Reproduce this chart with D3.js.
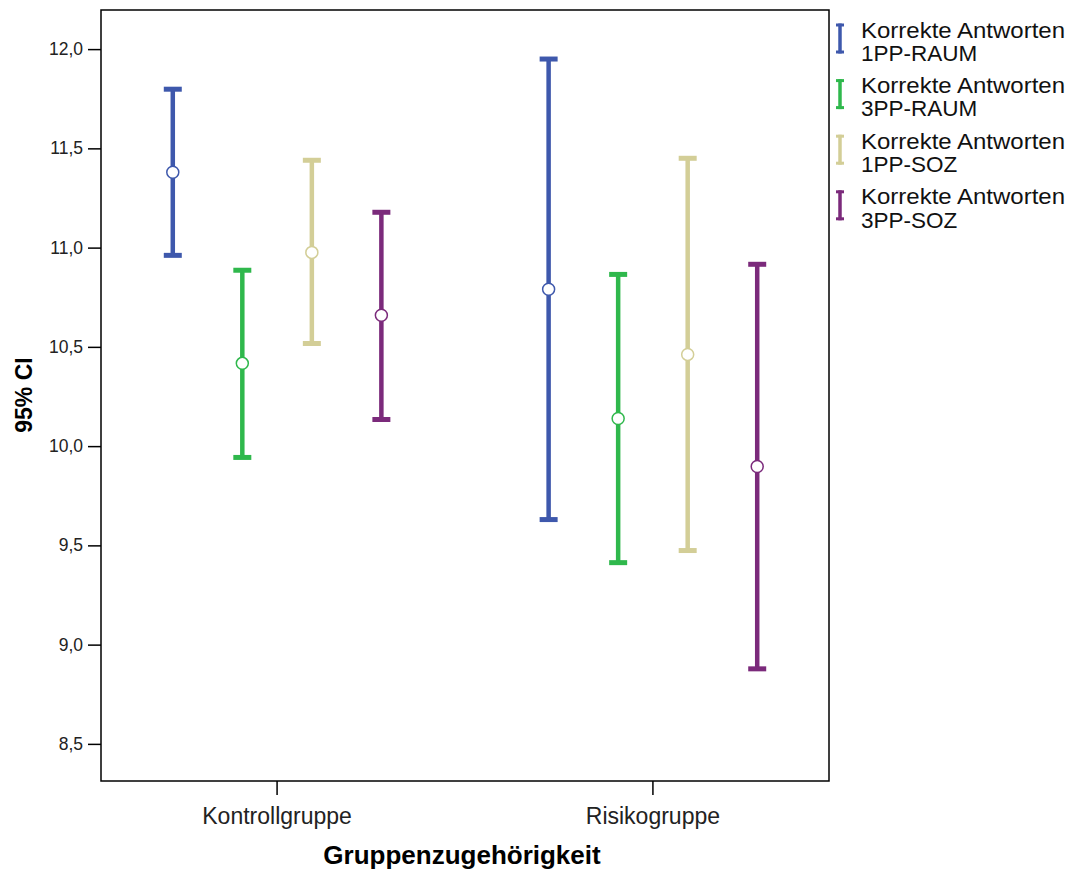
<!DOCTYPE html>
<html><head><meta charset="utf-8">
<script src="https://cdn.jsdelivr.net/npm/d3@7"></script>
<style>body{margin:0;background:#fff}text{font-family:"Liberation Sans",Arial,sans-serif}</style>
</head><body><svg id="c" width="1069" height="870"></svg>
<script>
const groups = ["Kontrollgruppe", "Risikogruppe"];
const seriesNames = ["Korrekte Antworten 1PP-RAUM", "Korrekte Antworten 3PP-RAUM", "Korrekte Antworten 1PP-SOZ", "Korrekte Antworten 3PP-SOZ"];
const legendLines = [["Korrekte Antworten","1PP-RAUM"],["Korrekte Antworten","3PP-RAUM"],["Korrekte Antworten","1PP-SOZ"],["Korrekte Antworten","3PP-SOZ"]];
const colors = ["#3e58ac", "#2fb84c", "#d3ce97", "#7b2a7b"];
// [Kontrollgruppe, Risikogruppe]
const meanVals = [[11.38, 10.79],[10.417, 10.139],[10.976, 10.462],[10.659, 9.897]];
const lowerVals = [[10.961, 9.630],[9.943, 9.413],[10.517, 9.474],[10.134, 8.878]];
const upperVals = [[11.798, 11.950],[10.886, 10.865],[11.440, 11.450],[11.178, 10.916]];
const yTicks = [8.5, 9.0, 9.5, 10.0, 10.5, 11.0, 11.5, 12.0];

const svg = d3.select("#c");
const L = 101, R = 829, T = 10, B = 781;
const y = d3.scaleLinear().domain([8.313, 12.197]).range([B, T]);
const x0 = d3.scaleBand().domain(groups).range([L, R]).paddingInner(0.26).paddingOuter(0.0985);
const x1 = d3.scaleBand().domain(d3.range(4)).range([0, x0.bandwidth()]).padding(0);
const fmt = d => d3.format(".1f")(d).replace(".", ",");

// frame
svg.append("rect").attr("x", L).attr("y", T).attr("width", R - L).attr("height", B - T)
  .attr("fill", "none").attr("stroke", "#000").attr("stroke-width", 1.5);

const ya = svg.append("g").attr("transform", `translate(${L},0)`)
  .call(d3.axisLeft(y).tickValues(yTicks).tickFormat(fmt).tickSize(13).tickPadding(5));
ya.select(".domain").remove();
ya.selectAll("line").attr("stroke-width", 1.5);
ya.selectAll("text").style("font-size", "17.5px").attr("fill", "#222");

const xa = svg.append("g").attr("transform", `translate(0,${B})`)
  .call(d3.axisBottom(x0).tickSize(14).tickPadding(13));
xa.select(".domain").remove();
xa.selectAll("line").attr("stroke-width", 1.5);
xa.selectAll("text").style("font-size", "23px").attr("fill", "#222");

svg.append("text").attr("x", 462).attr("y", 864).attr("text-anchor", "middle")
  .style("font-size", "26px").style("font-weight", "bold").text("Gruppenzugehörigkeit");
svg.append("text").attr("transform", "translate(32,395) rotate(-90)").attr("text-anchor", "middle")
  .style("font-size", "23px").style("font-weight", "bold").text("95% CI");

const capW = 18;
seriesNames.forEach((s, si) => {
  groups.forEach((g, gi) => {
    const cx = x0(g) + x1(si) + x1.bandwidth() / 2;
    const gg = svg.append("g");
    gg.append("line").attr("x1", cx).attr("x2", cx).attr("y1", y(upperVals[si][gi])).attr("y2", y(lowerVals[si][gi]))
      .attr("stroke", colors[si]).attr("stroke-width", 4.5);
    [upperVals[si][gi], lowerVals[si][gi]].forEach(v => {
      gg.append("line").attr("x1", cx - capW / 2).attr("x2", cx + capW / 2).attr("y1", y(v)).attr("y2", y(v))
        .attr("stroke", colors[si]).attr("stroke-width", 5);
    });
    gg.append("circle").attr("cx", cx).attr("cy", y(meanVals[si][gi])).attr("r", 6)
      .attr("fill", "#fff").attr("stroke", colors[si]).attr("stroke-width", 1.5);
  });
});

// legend
const leg = svg.append("g");
legendLines.forEach((ln, i) => {
  const base = 37.5 + i * 55.6;
  const lx = 840;
  const top = base - 14, bot = base + 16;
  leg.append("line").attr("x1", lx).attr("x2", lx).attr("y1", top).attr("y2", bot).attr("stroke", colors[i]).attr("stroke-width", 3.5);
  leg.append("line").attr("x1", lx - 4).attr("x2", lx + 4).attr("y1", top + 1.5).attr("y2", top + 1.5).attr("stroke", colors[i]).attr("stroke-width", 3);
  leg.append("line").attr("x1", lx - 4).attr("x2", lx + 4).attr("y1", bot - 1.5).attr("y2", bot - 1.5).attr("stroke", colors[i]).attr("stroke-width", 3);
  ln.forEach((t, k) => {
    leg.append("text").attr("x", 861).attr("y", base + k * 23.3).style("font-size", "22.5px")
      .attr("textLength", k === 0 ? 204 : null).attr("lengthAdjust", "spacingAndGlyphs").attr("fill", "#111").text(t);
  });
});
</script></body></html>
